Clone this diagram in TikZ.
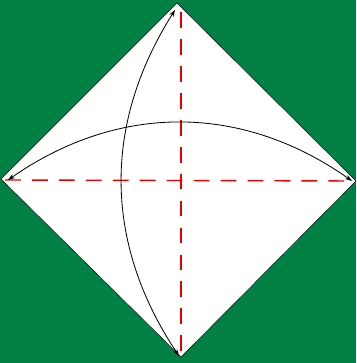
\documentclass[tikz,border=0pt]{standalone}
\usepackage{tikz}
\usetikzlibrary{arrows.meta}
\definecolor{boardgreen}{RGB}{0,128,68}

\begin{document}
\begin{tikzpicture}[
  x=0.03cm, y=0.03cm,
  sheet/.style={draw=black, fill=white, line width=0.4pt, line join=miter},
  crease/.style={draw=red!90!black, line width=1.2pt,
    dash pattern=on 13.5pt off 9.5pt},
  arr/.style={{Stealth[length=6pt,width=4pt]}-{Stealth[length=6pt,width=4pt]},
    line width=0.7pt}
]
\fill[boardgreen] (0,0) rectangle (356,363);
\useasboundingbox (0,0) rectangle (356,363);

% corners of the sheet
\coordinate (t) at (177,360);
\coordinate (b) at (181,6);
\coordinate (l) at (1,184);
\coordinate (r) at (356,182);
\draw[sheet] (t) -- (r) -- (b) -- (l) -- cycle;

% ends of the guide lines
\coordinate (vt) at (181,351);
\coordinate (vb) at (181,10);
\coordinate (hl) at (5,183);
\coordinate (hr) at (353,182);
\draw[crease] (vt) -- (vb);
\draw[crease] (hl) -- (hr);

% ends of the folds
\coordinate (ft) at (175,353);
\coordinate (fb) at (179,7);
\coordinate (fl) at (8,183);
\coordinate (fr) at (352,182);
\draw[arr] (fb) to[bend left=33] (ft);
\draw[arr] (fl) to[bend left=35] (fr);
\end{tikzpicture}
\end{document}
